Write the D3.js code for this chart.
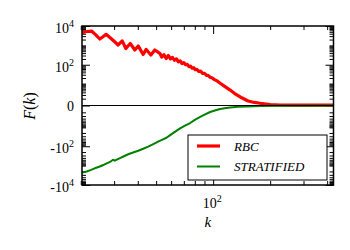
<!DOCTYPE html>
<html>
<head>
<meta charset="utf-8">
<script src="https://cdn.jsdelivr.net/npm/d3@7"></script>
<style>
  body { margin: 0; background: #fff; }
</style>
</head>
<body>
<svg width="350" height="250" font-family="'Liberation Serif', 'DejaVu Serif', serif"></svg>
<script>
// values
const rbcK = [20.3, 21.5, 22.8, 24, 25.2, 26.2, 27.2, 28.9, 30.3, 31.5, 33.1, 34.6, 36.5, 38.6, 40.2,
  42.7, 44.3, 46.9, 49.2, 52.3, 53.5, 55, 56.5, 58, 59.5, 61, 62.5, 64, 65.5, 67, 68.5, 70, 71.5,
  73, 74.5, 76, 77.5, 79, 80.5, 82, 84, 86, 88, 90, 92, 94, 96.4, 99, 102, 105, 108.9, 115, 123,
  130, 138.9, 153, 165, 177, 200, 226, 260, 300, 350, 432];
const rbcF = [4500, 5200, 5500, 3500, 2140, 2800, 3730, 2280, 1500, 1050, 1700, 690, 1250, 580, 940,
  340, 620, 320, 580, 390, 250, 330, 210, 300, 200, 240, 170, 200, 140, 160, 115, 130, 100,
  105, 80, 85, 66, 70, 55, 58, 45, 46, 35, 36, 28, 28, 22, 20, 16, 14, 10.4, 7, 4.2,
  2.5, 1.4, 0.56, 0.35, 0.24, 0.1, 0.05, 0.04, 0.03, 0.03, 0.03];

const strK = [20.3, 21.5, 22.5, 23.7, 25, 26.5, 28, 29, 29.6, 30.2, 32, 33.8, 35.6, 37.8, 40.2,
  42.7, 45.4, 48, 51.2, 54, 56.7, 59.3, 62.5, 66.9, 71, 75.6, 80, 85.4, 90.7, 96.4, 103, 108.9,
  115, 123, 135, 150, 180, 230, 300, 432];
const strF = [-2300, -2000, -1700, -1380, -1150, -900, -700, -580, -500, -560, -420, -330, -260, -210, -170,
  -135, -105, -80, -58, -45, -36, -26, -18, -11.3, -8, -5.6, -3.6, -2.3, -1.5, -0.93, -0.6, -0.41,
  -0.3, -0.21, -0.14, -0.09, -0.05, -0.03, -0.02, -0.01];

const seriesNames = ["RBC", "STRATIFIED"];
const seriesColors = ["#ff0000", "#008000"];

const yMajor = [1e4, 1e2, 0, -1e2, -1e4];
const yMajorLabels = [["10", "4"], ["10", "2"], ["0", ""], ["-10", "2"], ["-10", "4"]];
const xMajor = [100];
const xMajorLabels = [["10", "2"]];
const xMinor = [20, 30, 40, 50, 60, 70, 80, 90, 200, 300, 400];

let yMinor = [];
[1, 10, 100, 1000].forEach(d => {
  for (let m = 1; m < 10; m++) {
    let v = m * d;
    if (v === 100) continue;
    yMinor.push(v, -v);
  }
});

let svg = d3.select("svg");
let mLeft = 82, mRight = 333.5, mTop = 26, mBottom = 185;

var x = d3.scaleLog().domain([20.3, 432]).range([mLeft, mRight]);
var y = d3.scaleSymlog().constant(0.8).domain([-1e4, 1e4]).range([mBottom, mTop]);

var g = svg.append("g");

// ticks, all pointing inwards on the four sides
function tickAxis(axis, transform, values, size) {
  let a = g.append("g").attr("transform", transform)
    .call(axis.tickValues(values).tickSize(size).tickFormat(""));
  a.select(".domain").remove();
  a.selectAll("line").attr("stroke", "#000").attr("stroke-width", 1);
}
tickAxis(d3.axisLeft(y), "translate(" + mLeft + ",0)", yMajor, -8);
tickAxis(d3.axisLeft(y), "translate(" + mLeft + ",0)", yMinor, -4);
tickAxis(d3.axisRight(y), "translate(" + mRight + ",0)", yMajor, -8);
tickAxis(d3.axisRight(y), "translate(" + mRight + ",0)", yMinor, -4);
tickAxis(d3.axisBottom(x), "translate(0," + mBottom + ")", xMajor, -8);
tickAxis(d3.axisBottom(x), "translate(0," + mBottom + ")", xMinor, -4);
tickAxis(d3.axisTop(x), "translate(0," + mTop + ")", xMajor, -8);
tickAxis(d3.axisTop(x), "translate(0," + mTop + ")", xMinor, -4);

// curves
var line = d3.line().x(d => x(d[0])).y(d => y(d[1]));
var series = [d3.zip(rbcK, rbcF), d3.zip(strK, strF)];
g.selectAll("path.series")
  .data(series)
  .enter()
  .append("path")
  .attr("class", "series")
  .attr("d", line)
  .attr("fill", "none")
  .attr("stroke", (d, i) => seriesColors[i])
  .attr("stroke-width", (d, i) => i === 0 ? 3.2 : 2)
  .attr("stroke-linejoin", "round");

// zero line
g.append("line")
  .attr("x1", mLeft).attr("x2", mRight)
  .attr("y1", y(0)).attr("y2", y(0))
  .attr("stroke", "#000").attr("stroke-width", 1.2);

// frame
g.append("rect")
  .attr("x", mLeft).attr("y", mTop)
  .attr("width", mRight - mLeft).attr("height", mBottom - mTop)
  .attr("fill", "none").attr("stroke", "#000").attr("stroke-width", 1.5);

// y tick labels
yMajor.forEach((v, i) => {
  let lab = yMajorLabels[i];
  let t = g.append("text")
    .attr("x", 74).attr("y", y(v) + (lab[1] ? 7 : 5))
    .attr("text-anchor", "end")
    .attr("font-size", 14);
  t.append("tspan").text(lab[0]);
  if (lab[1]) t.append("tspan").attr("dy", -6).attr("font-size", 10).text(lab[1]);
});

// x tick labels
xMajor.forEach((v, i) => {
  let lab = xMajorLabels[i];
  let t = g.append("text")
    .attr("x", x(v) - 1).attr("y", 207.5)
    .attr("text-anchor", "middle")
    .attr("font-size", 14);
  t.append("tspan").text(lab[0]);
  t.append("tspan").attr("dy", -6).attr("font-size", 10).text(lab[1]);
});

// axis labels
g.append("text")
  .attr("x", (mLeft + mRight) / 2).attr("y", 227)
  .attr("text-anchor", "middle")
  .attr("font-size", 15).attr("font-style", "italic")
  .text("k");

var yl = g.append("text")
  .attr("transform", "translate(35,106) rotate(-90)")
  .attr("text-anchor", "middle")
  .attr("font-size", 16);
yl.append("tspan").attr("font-style", "italic").text("F");
yl.append("tspan").text("(");
yl.append("tspan").attr("font-style", "italic").text("k");
yl.append("tspan").text(")");

// legend
var legend = g.append("g");
legend.append("rect")
  .attr("x", 188).attr("y", 135).attr("width", 139).attr("height", 45)
  .attr("fill", "#fff").attr("stroke", "#000").attr("stroke-width", 1);
seriesNames.forEach((name, i) => {
  let ly = 146 + i * 20.5;
  legend.append("line")
    .attr("x1", 197).attr("x2", 220).attr("y1", ly).attr("y2", ly)
    .attr("stroke", seriesColors[i]).attr("stroke-width", i === 0 ? 3.2 : 2);
  legend.append("text")
    .attr("x", 234).attr("y", ly + 4.5)
    .attr("font-size", 13).attr("font-style", "italic")
    .text(name);
});
</script>
</body>
</html>
